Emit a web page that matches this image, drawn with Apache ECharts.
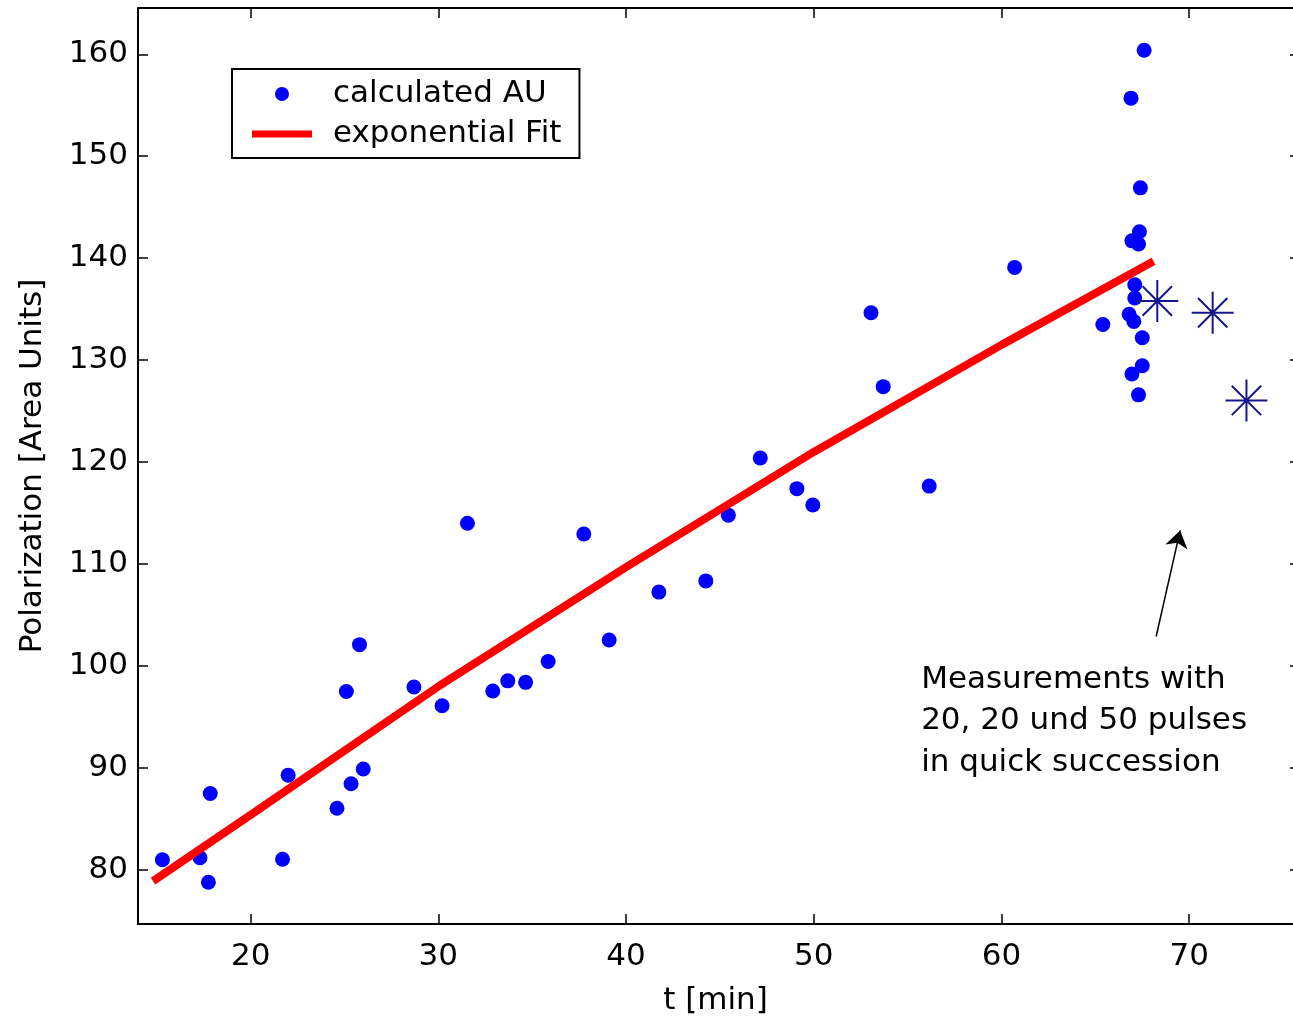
<!DOCTYPE html>
<html>
<head>
<meta charset="utf-8">
<title>Polarization vs time</title>
<script src="https://cdn.jsdelivr.net/npm/echarts@6/dist/echarts.min.js"></script>
<style>
  html, body { margin: 0; padding: 0; background: #fff; }
  #chart { width: 1293px; height: 1019px; }
</style>
</head>
<body>
<div id="chart"></div>
<script>
// Measured points: [t (min), polarization (area units)]
const calculatedAU = [
    [15.3, 81.0], [17.3, 81.2], [17.75, 78.8], [17.85, 87.5], [21.7, 81.05],
    [22.0, 89.3], [24.6, 86.05], [25.1, 97.5], [25.35, 88.45], [25.8, 102.1],
    [26.0, 89.9], [28.7, 97.95], [30.2, 96.1], [31.55, 114.0], [32.9, 97.55],
    [33.7, 98.55], [34.65, 98.4], [35.85, 100.45], [37.75, 112.95], [39.1, 102.55],
    [41.75, 107.25], [44.25, 108.35], [45.45, 114.8], [47.15, 120.4], [49.1, 117.4],
    [49.95, 115.8], [53.05, 134.65], [53.7, 127.4], [56.15, 117.65], [60.7, 139.1],
    [65.4, 133.5], [66.9, 155.7], [67.6, 160.4], [67.4, 146.9], [67.35, 142.6],
    [66.95, 141.7], [67.3, 141.4], [67.1, 137.4], [67.1, 136.1], [66.8, 134.5],
    [67.05, 133.8], [67.5, 132.2], [67.5, 129.45], [66.95, 128.65], [67.3, 126.6]
]

// Exponential fit
const exponentialFit = [
    [14.8, 78.9], [20, 85.4], [30, 98.0], [40, 109.7], [50, 121.0], [60, 131.5], [68.1, 139.7]
]

// Quick succession measurements (asterisks)
const quickPulses = [[68.3, 135.8], [71.25, 134.65], [73.05, 126.05]]

// Annotation arrow (tail -> head) and text anchor in data coords
const arrowFrom = [68.24, 102.9]
const arrowTo = [69.52, 113.3]
const noteAnchor = [55.72, 94.6]
const noteLines = ['Measurements with', '20, 20 und 50 pulses', 'in quick succession']

// Axis ranges and ticks (the right edge of the original figure is cut off)
const xMin = 14
const xMax = 75.53
const yMin = 74.7
const yMax = 164.54
const xTicks = [20, 30, 40, 50, 60, 70]
const yTicks = [80, 90, 100, 110, 120, 130, 140, 150, 160]

const font = 'DejaVu Sans'
const starPath = 'path://M0 10 L20 10 M10 0 L10 20 M3 3 L17 17 M3 17 L17 3'
const fitIcon = 'path://M0 0 L60 0 L60 7 L0 7 Z'

const chart = echarts.init(document.getElementById('chart'))

const frameLine = { show: true, onZero: false, lineStyle: { color: '#000', width: 2 } }
const innerTicks = (values, len) => ({
    show: true,
    inside: true,
    length: len,
    customValues: values,
    lineStyle: { color: '#000', width: 1.5 },
})

const option = {
    animation: false,
    backgroundColor: '#fff',
    grid: { left: 138, top: 8, width: 1155, height: 916, containLabel: false, outerBoundsMode: 'none' },
    legend: {
        orient: 'vertical',
        left: 232,
        top: 69,
        padding: [9, 18, 8, 20],
        itemGap: 8,
        itemWidth: 60,
        itemHeight: 14,
        backgroundColor: '#fff',
        borderColor: '#000',
        borderWidth: 2,
        borderRadius: 0,
        selectedMode: false,
        data: [
            { name: 'calculated AU', icon: 'circle' },
            { name: 'exponential Fit', icon: fitIcon, itemStyle: { color: '#ff0000', borderWidth: 0 } },
        ],
        textStyle: {
            fontFamily: font,
            fontSize: 31,
            lineHeight: 32,
            color: '#000',
            padding: [0, 0, 0, 16],
        },
    },
    xAxis: [{
        type: 'value',
        position: 'bottom',
        min: xMin,
        max: xMax,
        name: 't [min]',
        nameLocation: 'middle',
        nameGap: 61,
        nameTextStyle: { fontFamily: font, fontSize: 31, lineHeight: 31, color: '#000' },
        axisLine: frameLine,
        axisTick: innerTicks(xTicks, 10),
        axisLabel: {
            customValues: xTicks,
            margin: 17,
            fontFamily: font,
            fontSize: 31,
            lineHeight: 31,
            color: '#000',
        },
        splitLine: { show: false },
    }, {
        type: 'value',
        position: 'top',
        min: xMin,
        max: xMax,
        axisLine: frameLine,
        axisTick: innerTicks(xTicks, 10),
        axisLabel: { show: false },
        splitLine: { show: false },
    }],
    yAxis: [{
        type: 'value',
        position: 'left',
        min: yMin,
        max: yMax,
        name: 'Polarization [Area Units]',
        nameLocation: 'middle',
        nameGap: 90,
        nameTextStyle: { fontFamily: font, fontSize: 31, lineHeight: 31, color: '#000' },
        axisLine: frameLine,
        axisTick: innerTicks(yTicks, 10),
        axisLabel: {
            customValues: yTicks,
            margin: 10,
            fontFamily: font,
            fontSize: 31,
            color: '#000',
        },
        splitLine: { show: false },
    }, {
        type: 'value',
        position: 'right',
        min: yMin,
        max: yMax,
        axisLine: { show: false },
        axisTick: innerTicks(yTicks, 3),
        axisLabel: { show: false },
        splitLine: { show: false },
    }],
    series: [{
        name: 'calculated AU',
        type: 'scatter',
        data: calculatedAU,
        symbol: 'circle',
        symbolSize: 15,
        itemStyle: { color: '#0000ff', opacity: 1 },
        z: 2,
    }, {
        name: 'exponential Fit',
        type: 'line',
        data: exponentialFit,
        smooth: false,
        showSymbol: false,
        symbol: 'none',
        lineStyle: { color: '#ff0000', width: 8 },
        itemStyle: { color: '#ff0000' },
        z: 3,
    }, {
        name: 'quick pulses',
        type: 'scatter',
        data: quickPulses,
        symbol: starPath,
        symbolSize: 42,
        itemStyle: { color: 'none', borderColor: '#16168e', borderWidth: 2, opacity: 1 },
        z: 4,
        markLine: {
            silent: true,
            symbol: ['none', 'arrow'],
            symbolSize: 17,
            label: { show: false },
            lineStyle: { color: '#000', width: 1.5, type: 'solid', opacity: 1 },
            itemStyle: { color: '#000' },
            data: [[{ coord: arrowFrom }, { coord: arrowTo }]],
        },
        markPoint: {
            silent: true,
            symbol: 'circle',
            symbolSize: 0,
            data: [{ coord: noteAnchor }],
            label: {
                show: true,
                position: 'right',
                distance: 0,
                align: 'left',
                formatter: noteLines.join('\n'),
                fontFamily: font,
                fontSize: 31,
                lineHeight: 41.5,
                color: '#000',
            },
        },
    }],
}

chart.setOption(option)
</script>
</body>
</html>
